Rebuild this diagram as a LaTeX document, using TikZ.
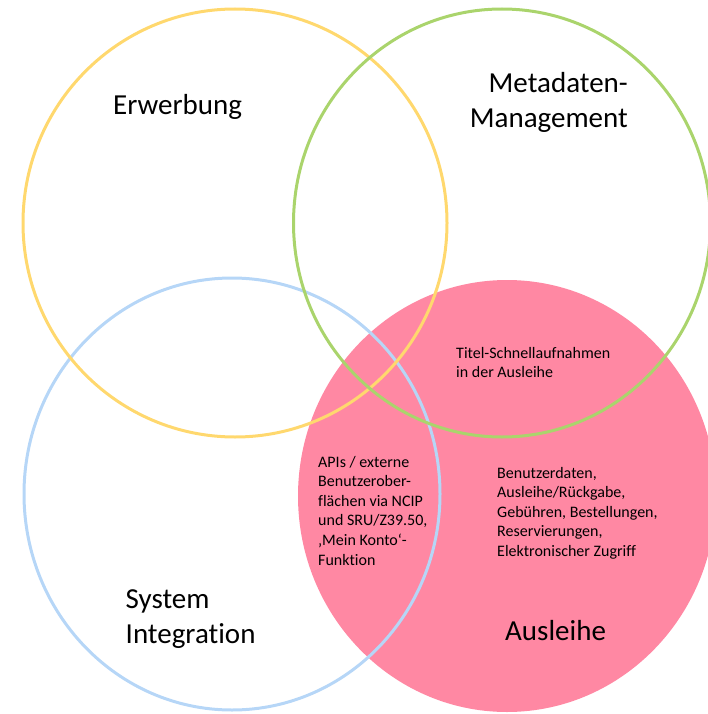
\documentclass[tikz,border=0pt]{standalone}
\usepackage{fontspec}
\setmainfont[Ligatures=NoCommon]{Carlito}
\newcommand\Lft[1]{\vtop{\halign{##\hfil\cr#1\crcr}}}
\newcommand\Rgt[1]{\vtop{\halign{\hfil##\cr#1\crcr}}}
\definecolor{cyellow}{HTML}{FFD86E}
\definecolor{cgreen}{HTML}{AAD46C}
\definecolor{cblue}{HTML}{B6D6F7}
\definecolor{cpink}{HTML}{FF88A3}
\begin{document}
\begin{tikzpicture}[x=1pt,y=-1pt,
  ring/.style={line width=3pt},
  big/.style={inner sep=0pt,anchor=base west,font=\fontsize{29}{35}\selectfont},
  small/.style={inner sep=0pt,anchor=base west,font=\fontsize{16}{19.6}\selectfont}]
\useasboundingbox (0,0) rectangle (708,714);
\clip (0,0) rectangle (708,714);
\fill[cpink] (507,496) ellipse [x radius=209pt, y radius=216pt];
\draw[ring,cblue] (232,494) ellipse [x radius=208pt, y radius=216pt];
\draw[ring,cyellow] (235,223) ellipse [x radius=212pt, y radius=214pt];
\draw[ring,cgreen] (502,223) ellipse [x radius=208.5pt, y radius=214pt];
\node[big] (erw) at (113,115) {Erwerbung};
\node[big,anchor=base east] (meta) at (628,93) {\Rgt{Metadaten-\cr Management}};
\node[big] (sys) at (125.5,608) {\Lft{System\cr Integration}};
\node[big] (aus) at (505,640) {Ausleihe};
\node[small] (titel) at (456,358) {\Lft{Titel-Schnellaufnahmen\cr in der Ausleihe}};
\node[small] (api) at (318,467) {\Lft{APIs / externe\cr Benutzerober-\cr flächen via NCIP\cr und SRU/Z39.50,\cr ‚Mein Konto‘-\cr Funktion}};
\node[small] (ben) at (497,478) {\Lft{Benutzerdaten,\cr Ausleihe/Rückgabe,\cr Gebühren, Bestellungen,\cr Reservierungen,\cr Elektronischer Zugriff}};
\end{tikzpicture}
\end{document}
